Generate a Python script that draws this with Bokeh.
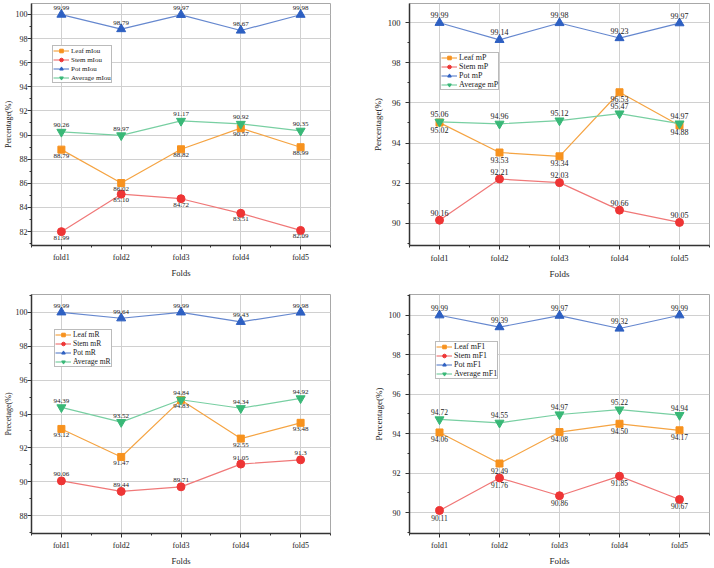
from bokeh.plotting import figure
from bokeh.layouts import gridplot
from bokeh.models import FixedTicker, Legend, LegendItem, ColumnDataSource, Title
from bokeh.core.properties import value
from bokeh.embed import file_html
from bokeh.resources import INLINE

# ---- data -------------------------------------------------------------
FOLDS = ["fold1", "fold2", "fold3", "fold4", "fold5"]
FOLD_X = [1, 2, 3, 4, 5]

leaf_miou = ["88.79", "86.02", "88.82", "90.57", "88.99"]
stem_miou = ["81.99", "85.10", "84.72", "83.51", "82.09"]
pot_miou = ["99.99", "98.79", "99.97", "98.67", "99.98"]
avg_miou = ["90.26", "89.97", "91.17", "90.92", "90.35"]

leaf_mp = ["95.02", "93.53", "93.34", "96.53", "94.88"]
stem_mp = ["90.16", "92.21", "92.03", "90.66", "90.05"]
pot_mp = ["99.99", "99.14", "99.98", "99.23", "99.97"]
avg_mp = ["95.06", "94.96", "95.12", "95.47", "94.97"]

leaf_mr = ["93.12", "91.47", "94.83", "92.55", "93.48"]
stem_mr = ["90.06", "89.44", "89.71", "91.05", "91.3"]
pot_mr = ["99.99", "99.64", "99.99", "99.43", "99.98"]
avg_mr = ["94.39", "93.52", "94.84", "94.34", "94.92"]

leaf_mf1 = ["94.06", "92.49", "94.08", "94.50", "94.17"]
stem_mf1 = ["90.11", "91.76", "90.86", "91.85", "90.67"]
pot_mf1 = ["99.99", "99.39", "99.97", "99.32", "99.99"]
avg_mf1 = ["94.72", "94.55", "94.97", "95.22", "94.94"]

# ---- styles -----------------------------------------------------------
FONT = "Liberation Serif"
# name, marker, marker colour, line colour, marker size
SERIES = [
    ("Leaf", "square", "#F7921E", "#F5A443", 7),
    ("Stem", "circle", "#EE3535", "#F07878", 8),
    ("Pot", "triangle", "#2E60C2", "#6688CF", 9),
    ("Average", "inverted_triangle", "#39B877", "#78CFA2", 9),
]


def make_panel(metric, series, sides, y_range, y_ticks, ylabel, borders,
               legend_loc, fs):
    left, right, top, bottom = borders
    p = figure(width=357, height=284, x_range=(0.5, 5.5), y_range=y_range,
               output_backend="svg", toolbar_location=None,
               min_border_left=left, min_border_right=right,
               min_border_top=top, min_border_bottom=bottom,
               background_fill_color="white", border_fill_color="white")
    p.outline_line_color = "#a8a8a8"
    p.outline_line_width = 1
    p.grid.grid_line_color = "#d0d0d0"
    p.grid.grid_line_width = 1

    p.xaxis.ticker = FixedTicker(ticks=FOLD_X,
                                 minor_ticks=[x - 0.5 for x in FOLD_X] + [FOLD_X[-1] + 0.5])
    p.xaxis.major_label_overrides = {x: f for x, f in zip(FOLD_X, FOLDS)}
    p.yaxis.ticker = FixedTicker(ticks=y_ticks,
                                 minor_ticks=[t - 1 for t in y_ticks] + [y_ticks[-1] + 1])

    for ax in (p.xaxis[0], p.yaxis[0]):
        ax.axis_line_color = "#333333"
        ax.axis_line_width = 1.5
        ax.major_tick_line_color = "#333333"
        ax.minor_tick_line_color = "#333333"
        ax.major_tick_in = 0
        ax.major_tick_out = 4
        ax.minor_tick_in = 0
        ax.minor_tick_out = 2
        ax.major_label_text_font = FONT
        ax.major_label_text_font_size = f"{fs['tick']}px"
        ax.major_label_text_color = "#222222"
        ax.axis_label_text_font = FONT
        ax.axis_label_text_font_style = "normal"
        ax.axis_label_text_font_size = f"{fs['axis']}px"
        ax.axis_label_text_color = "#222222"
    p.xaxis.axis_label = "Folds"
    p.xaxis.major_label_standoff = 3
    p.xaxis.axis_label_standoff = 3
    p.yaxis.major_label_standoff = fs["ystand"]

    # vertical axis title as a compact side panel
    ytitle = Title(text=ylabel, align="center", offset=0, standoff=fs["tstand"],
                   text_font=FONT, text_font_style="normal",
                   text_font_size=f"{fs['ytitle']}px", text_color="#222222")
    p.add_layout(ytitle, "left")

    items = []
    label_layers = []
    for (name, marker, mcol, lcol, msize), vals, side in zip(SERIES, series, sides):
        ys = [float(v) for v in vals]
        src = ColumnDataSource(dict(x=FOLD_X, y=ys, lab=vals))
        r_line = p.line("x", "y", source=src, line_color=lcol, line_width=1.2)
        r_mark = p.scatter("x", "y", source=src, marker=marker, size=msize,
                           fill_color=mcol, line_color=mcol)
        items.append(LegendItem(label=f"{name} {metric}", renderers=[r_line, r_mark]))
        label_layers.append((src, side))

    for src, side in label_layers:
        if side == "above":
            p.text("x", "y", text="lab", source=src, text_align="center",
                   text_baseline="bottom", y_offset=-4.5,
                   text_font=value(FONT), text_font_size=f"{fs['data']}px",
                   text_color="#222222")
        else:
            p.text("x", "y", text="lab", source=src, text_align="center",
                   text_baseline="top", y_offset=4,
                   text_font=value(FONT), text_font_size=f"{fs['data']}px",
                   text_color="#222222")

    legend = Legend(items=items, location=legend_loc)
    legend.border_line_color = "#777777"
    legend.border_line_width = 1
    legend.background_fill_color = "white"
    legend.background_fill_alpha = 1
    legend.padding = 0
    legend.margin = 0
    legend.spacing = fs["lspace"]
    legend.glyph_height = 9
    legend.glyph_width = 16
    legend.label_height = 7
    legend.label_standoff = 2
    legend.label_text_font = FONT
    legend.label_text_font_size = f"{fs['legend']}px"
    legend.label_text_color = "#222222"
    p.add_layout(legend)
    return p


SIDES_MIOU = ["below", "below", "above", "above"]
SIDES_MP = ["below", "above", "above", "above"]
SIDES_MR = ["below", "above", "above", "above"]
SIDES_MF1 = ["below", "below", "above", "above"]

p1 = make_panel("mIou", [leaf_miou, stem_miou, pot_miou, avg_miou], SIDES_MIOU,
                (80.84, 100.91), [82, 84, 86, 88, 90, 92, 94, 96, 98, 100],
                "Percentage(%)", (31, 27, 3, 39), (21, 162),
                dict(tick=8, axis=8.5, ytitle=8, data=7, legend=7, ystand=0,
                     tstand=0, lspace=-2))
p2 = make_panel("mP", [leaf_mp, stem_mp, pot_mp, avg_mp], SIDES_MP,
                (88.9, 100.95), [90, 92, 94, 96, 98, 100],
                "Percentage(%)", (52, 5, 3, 39), (31, 155),
                dict(tick=8.5, axis=9, ytitle=9, data=8, legend=8, ystand=5,
                     tstand=3, lspace=-1))
p3 = make_panel("mR", [leaf_mr, stem_mr, pot_mr, avg_mr], SIDES_MR,
                (86.96, 101.04), [88, 90, 92, 94, 96, 98, 100],
                "Precetage(%)", (31, 27, 10, 31), (23, 166),
                dict(tick=8, axis=8.5, ytitle=8, data=7, legend=7.5, ystand=0,
                     tstand=0, lspace=-2))
p4 = make_panel("mF1", [leaf_mf1, stem_mf1, pot_mf1, avg_mf1], SIDES_MF1,
                (88.95, 101.04), [90, 92, 94, 96, 98, 100],
                "Percentage(%)", (52, 5, 10, 31), (26, 154),
                dict(tick=8, axis=9, ytitle=9, data=7.5, legend=8, ystand=5,
                     tstand=3, lspace=-1))

grid = gridplot([[p1, p2], [p3, p4]], toolbar_location=None)

with open("out.html", "w") as f:
    f.write(file_html(grid, INLINE))
